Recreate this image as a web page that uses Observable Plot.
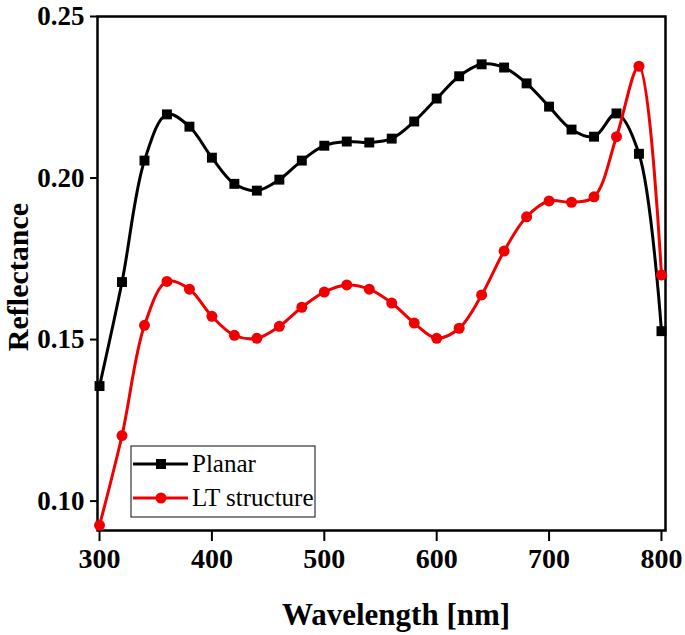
<!DOCTYPE html>
<html>
<head>
<meta charset="utf-8">
<script src="https://cdn.jsdelivr.net/npm/d3@7"></script>
<script src="https://cdn.jsdelivr.net/npm/@observablehq/plot@0.6"></script>
<style>
  html, body { margin: 0; padding: 0; background: #fff; }
  #chart svg { display: block; }
</style>
</head>
<body>
<div id="chart"></div>
<script>
const wavelengths = [300,320,340,360,380,400,420,440,460,480,500,520,540,560,580,600,620,640,660,680,700,720,740,760,780,800];
const planar = [0.1356,0.1678,0.2054,0.2197,0.2159,0.2063,0.1982,0.1961,0.1995,0.2054,0.2100,0.2113,0.2110,0.2122,0.2175,0.2246,0.2315,0.2352,0.2342,0.2293,0.2221,0.2150,0.2128,0.2200,0.2075,0.1526];
const ltStructure = [0.0925,0.1203,0.1544,0.1680,0.1656,0.1572,0.1513,0.1504,0.1541,0.1600,0.1647,0.1669,0.1656,0.1613,0.1551,0.1504,0.1535,0.1638,0.1774,0.1880,0.1929,0.1925,0.1942,0.2128,0.2346,0.1700];
const seriesNames = ["Planar", "LT structure"];
const xTicks = [300,400,500,600,700,800];
const yTicks = [0.10,0.15,0.20,0.25];

const planarData = wavelengths.map((w,i) => ({w, v: planar[i]}));
const ltData = wavelengths.map((w,i) => ({w, v: ltStructure[i]}));

const font = "'Liberation Serif', 'Times New Roman', serif";

const plot = Plot.plot({
  width: 685,
  height: 635,
  marginLeft: 97,
  marginRight: 20,
  marginTop: 16,
  marginBottom: 105,
  style: {fontFamily: font, background: "#fff", color: "#000"},
  x: {domain: [298.2, 803.6], ticks: xTicks, tickFormat: d3.format("d"), label: null},
  y: {domain: [0.0909, 0.25], ticks: yTicks, tickFormat: d3.format(".2f"), label: null},
  marks: [
    Plot.axisX({ticks: xTicks, tickFormat: d3.format("d"), tickSize: 11, tickPadding: 7, fontSize: 28, fontWeight: "bold", strokeWidth: 2}),
    Plot.axisY({ticks: yTicks, tickFormat: d3.format(".2f"), tickSize: 7, tickPadding: 6, fontSize: 27, fontWeight: "bold", strokeWidth: 2}),
    Plot.frame({stroke: "#000", strokeWidth: 2.5}),
    Plot.line(planarData, {x: "w", y: "v", stroke: "#000", strokeWidth: 3, curve: "catmull-rom"}),
    Plot.dot(planarData, {x: "w", y: "v", symbol: "square", r: 5.6, fill: "#000"}),
    Plot.line(ltData, {x: "w", y: "v", stroke: "#f00000", strokeWidth: 3, curve: "catmull-rom"}),
    Plot.dot(ltData, {x: "w", y: "v", symbol: "circle", r: 5.5, fill: "#f00000"})
  ]
});

document.getElementById("chart").appendChild(plot);

const svg = d3.select(plot);
// Axis titles
svg.append("text")
  .attr("x", 396).attr("y", 625)
  .attr("text-anchor", "middle")
  .attr("font-family", font).attr("font-weight", "bold").attr("font-size", 31)
  .text("Wavelength [nm]");
svg.append("text")
  .attr("transform", "translate(28,277) rotate(-90)")
  .attr("text-anchor", "middle")
  .attr("font-family", font).attr("font-weight", "bold").attr("font-size", 30)
  .text("Reflectance");

// Legend
const lg = svg.append("g");
lg.append("rect").attr("x", 131).attr("y", 446).attr("width", 184).attr("height", 71)
  .attr("fill", "#fff").attr("stroke", "#333").attr("stroke-width", 1.2);
const legendColors = ["#000", "#f00000"];
seriesNames.forEach((name, i) => {
  const yy = 464 + i * 34;
  lg.append("line").attr("x1", 133).attr("x2", 188).attr("y1", yy).attr("y2", yy)
    .attr("stroke", legendColors[i]).attr("stroke-width", 3);
  if (i === 0) {
    lg.append("rect").attr("x", 156).attr("y", yy - 5).attr("width", 10).attr("height", 10).attr("fill", legendColors[i]);
  } else {
    lg.append("circle").attr("cx", 161).attr("cy", yy).attr("r", 5.5).attr("fill", legendColors[i]);
  }
  lg.append("text").attr("x", 192).attr("y", yy + 8)
    .attr("text-anchor", "start")
    .attr("font-family", font).attr("font-size", 25).attr("fill", "#000")
    .text(name);
});
</script>
</body>
</html>
